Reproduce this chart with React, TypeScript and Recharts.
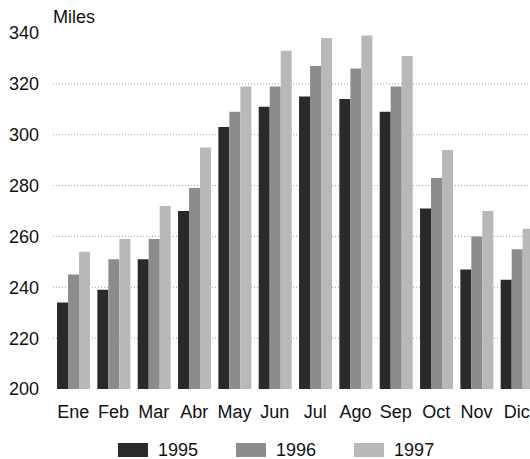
import { BarChart, Bar, XAxis, YAxis, CartesianGrid } from 'recharts'

// Meses y millas por año
const meses = ['Ene', 'Feb', 'Mar', 'Abr', 'May', 'Jun', 'Jul', 'Ago', 'Sep', 'Oct', 'Nov', 'Dic']
const millas1995 = [234, 239, 251, 270, 303, 311, 315, 314, 309, 271, 247, 243]
const millas1996 = [245, 251, 259, 279, 309, 319, 327, 326, 319, 283, 260, 255]
const millas1997 = [254, 259, 272, 295, 319, 333, 338, 339, 331, 294, 270, 263]
const yTicks = [200, 220, 240, 260, 280, 300, 320, 340]
const gridValues = [220, 240, 260, 280, 300, 320]
const yMin = 200
const yMax = 340

const series = [
  { key: 'y1995', name: '1995', color: '#2a2a2a' },
  { key: 'y1996', name: '1996', color: '#8c8c8c' },
  { key: 'y1997', name: '1997', color: '#b8b8b8' },
]

const data = meses.map((mes, i) => ({
  mes,
  y1995: millas1995[i],
  y1996: millas1996[i],
  y1997: millas1997[i],
}))

const font = '"Liberation Sans", Arial, sans-serif'
const tickStyle = { fontSize: 18, fill: '#111', fontFamily: font }

// lineas de grilla solo en los valores intermedios
const gridCoords = ({ yAxis, offset }: any) => {
  if (yAxis && typeof yAxis.scale === 'function') return gridValues.map(v => yAxis.scale(v))
  return gridValues.map(v => offset.top + (offset.height * (yMax - v)) / (yMax - yMin))
}

export default function App() {
  return (
    <div style={{ position: 'relative', width: 530, height: 459, overflow: 'hidden', fontFamily: font, background: '#fff' }}>
      {/* sin margen del body: el gráfico original sale cortado por la derecha */}
      <style>{`html, body { margin: 0; overflow: hidden; }`}</style>
      <BarChart
        width={530}
        height={459}
        data={data}
        margin={{ top: 33, right: -7, left: 0, bottom: 40 }}
        barCategoryGap="10%"
        barGap={0}
      >
        <CartesianGrid
          vertical={false}
          stroke="#a0a0a0"
          strokeDasharray="1 2"
          horizontalCoordinatesGenerator={gridCoords}
        />
        <XAxis
          dataKey="mes"
          axisLine={false}
          tickLine={false}
          tickSize={0}
          tickMargin={16}
          height={30}
          interval={0}
          tick={tickStyle}
        />
        <YAxis
          domain={[yMin, yMax]}
          ticks={yTicks}
          axisLine={false}
          tickLine={false}
          tickSize={0}
          tickMargin={14}
          width={53}
          allowDataOverflow
          tick={tickStyle}
        />
        {series.map(s => (
          <Bar key={s.key} dataKey={s.key} name={s.name} fill={s.color} isAnimationActive={false} />
        ))}
      </BarChart>
      <div style={{ position: 'absolute', left: 53, top: 8, fontSize: 18, lineHeight: '18px', color: '#111' }}>Miles</div>
      <div style={{ position: 'absolute', left: 118, top: 441, display: 'flex', gap: 38, alignItems: 'center' }}>
        {series.map(s => (
          <div key={s.key} style={{ display: 'flex', alignItems: 'center' }}>
            <div style={{ width: 30, height: 14, background: s.color, marginRight: 10 }} />
            <span style={{ fontSize: 18, lineHeight: '18px', color: '#111' }}>{s.name}</span>
          </div>
        ))}
      </div>
    </div>
  )
}
